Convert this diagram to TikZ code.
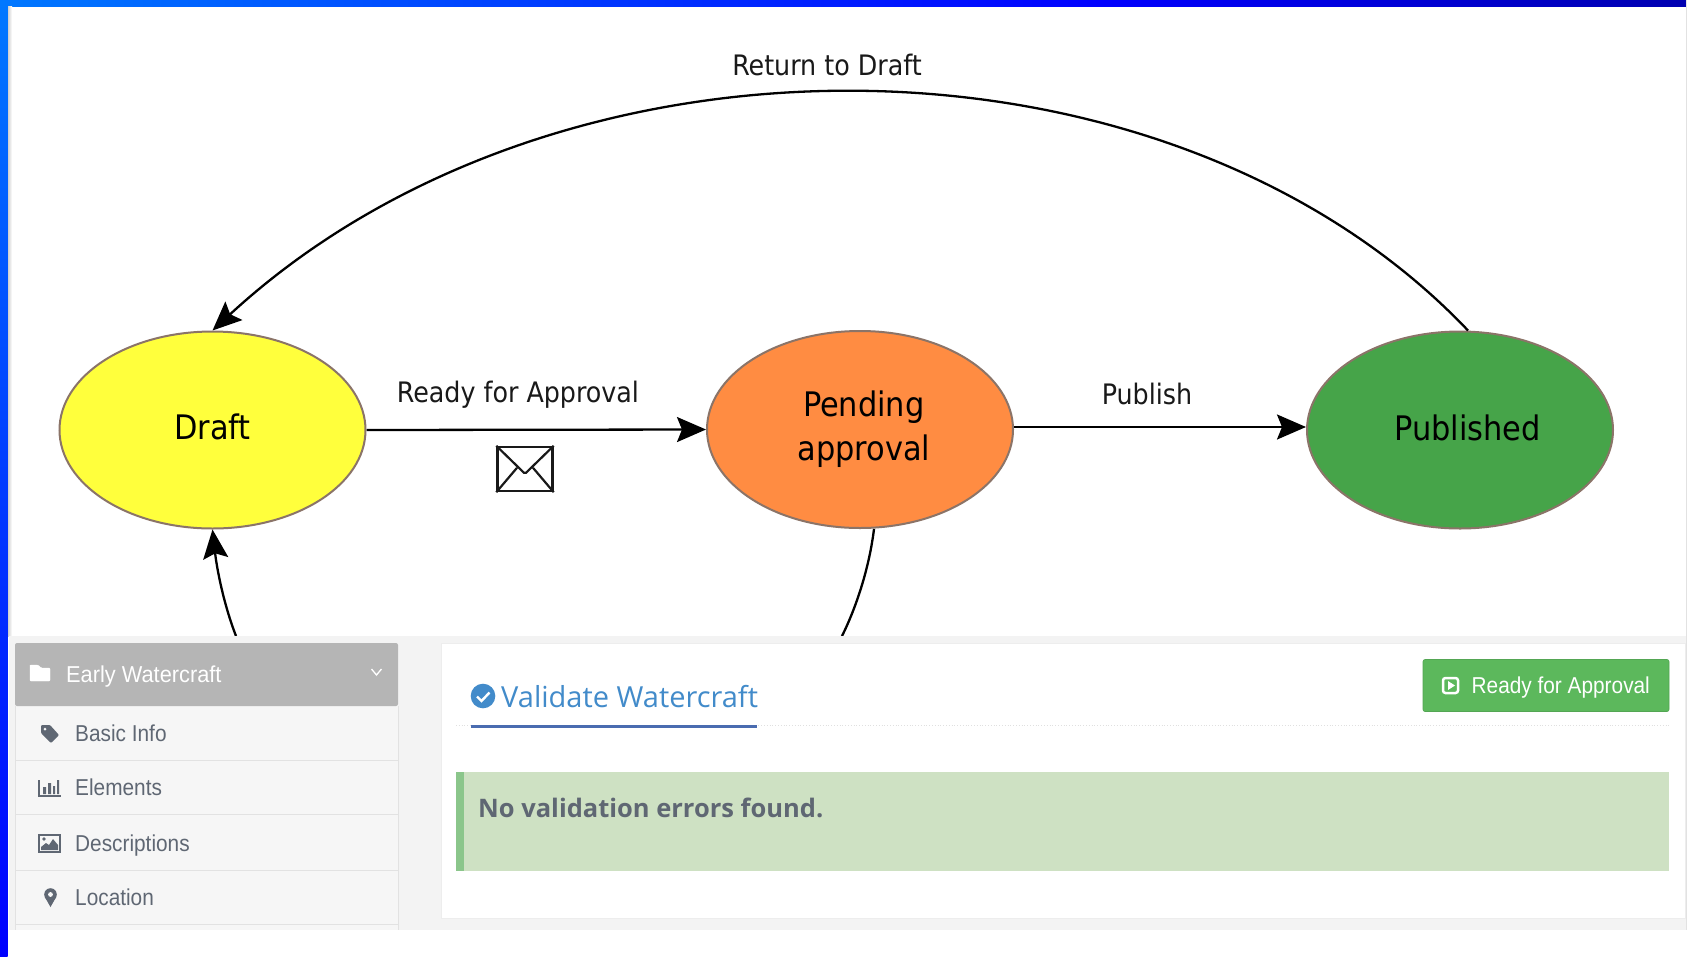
\documentclass[tikz,border=0pt]{standalone}
\usepackage{fontspec}
\setmainfont{Liberation Sans}
\newfontfamily\uifont[FakeStretch=0.905]{Liberation Sans}
\newfontfamily\headfont[FakeStretch=0.947]{Liberation Sans}
\newfontfamily\diagfont{DejaVu Sans Condensed}
\newfontfamily\openfont{Open Sans}
\usetikzlibrary{shapes.geometric,arrows.meta}
\definecolor{panelgray}{HTML}{F3F3F3}
\definecolor{side}{HTML}{F6F6F6}
\definecolor{sideline}{HTML}{E2E2E2}
\definecolor{headgray}{HTML}{B5B5B5}
\definecolor{textgray}{HTML}{5F6773}
\definecolor{linkblue}{HTML}{428BCA}
\definecolor{ulblue}{HTML}{4A6CB0}
\definecolor{okfill}{HTML}{CEE1C3}
\definecolor{okbar}{HTML}{8BC68B}
\definecolor{btn}{HTML}{5CB85C}
\definecolor{stateedge}{HTML}{8B7468}
\definecolor{sy}{HTML}{FFFF3C}
\definecolor{so}{HTML}{FF8C42}
\definecolor{sg}{HTML}{46A449}
\definecolor{framea}{HTML}{0078FF}
\definecolor{frameb}{HTML}{0000FF}
\definecolor{framec}{HTML}{0000B0}
\tikzset{
 x=1pt,y=-1pt,
 state/.style={ellipse,draw=stateedge,line width=2pt,minimum width=306pt,minimum height=197pt,inner sep=0pt,font=\diagfont\fontsize{33.8}{43}\selectfont,align=center,text=black},
 flow/.style={draw=black,line width=2.3pt,-{Stealth[length=29pt,width=25pt,inset=5pt]}},
 plainflow/.style={draw=black,line width=2.3pt},
 edgelabel/.style={font=\diagfont\fontsize{28.2}{36}\selectfont,text=black!90,inner sep=0pt},
 sideitem/.style={font=\uifont\fontsize{23}{28}\selectfont,text=textgray,anchor=base west,inner sep=0pt},
 sideline/.style={draw=sideline,line width=1pt},
}
\begin{document}
\begin{tikzpicture}
\useasboundingbox (0,0) rectangle (1687,956);
% frame
\fill[white] (0,0) rectangle (1687,956);
\shade[top color=framea,bottom color=frameb] (0,0) rectangle (7.5,956);
\shade[left color=framea,right color=frameb] (0,0) rectangle (1100,6);
\shade[left color=frameb,right color=framec] (1100,0) rectangle (1687,6);
\shade[left color=black!18,right color=white] (8,6) rectangle (12,636);
% states
\node[state,fill=sy,text height=30pt,text depth=11pt] (draft) at (212.5,430) {Draft};
\node[state,fill=so] (pending) at (860,429.5) {\hspace*{7.5pt}Pending\\[1pt]\hspace*{7.5pt}approval};
\node[state,fill=sg,text height=30pt,text depth=8.5pt] (published) at (1460,430) {\hspace*{15pt}Published};
% connectors
\coordinate (retA) at (236,636);
\coordinate (penA) at (842,636);
\draw[flow] (draft.east) -- (pending.west);
\draw[flow] (pending.east |- 0,427) -- (published.west |- 0,427);
\draw[flow] ([xshift=8pt]published.north) .. controls (1170,17) and (560,10) .. (draft.north);
\draw[flow] (retA) .. controls (224,605) and (217,570) .. (draft.south);
\draw[plainflow] (pending.south) ++(14,0) .. controls (869,570) and (855,610) .. (penA);
% edge labels
\node[edgelabel] (l1) at (827,65) {Return to Draft};
\node[edgelabel] (l2) at (518,395) {Ready for Approval};
\node[edgelabel] (l3) at (1147,394) {Publish};
% envelope
\node[draw=black!90,line width=2.4pt,minimum width=55pt,minimum height=44pt,inner sep=0pt] (env) at (525,469) {};
\draw[black!90,line width=2.2pt] (env.north west) -- ([xshift=-1pt,yshift=-27pt]env.north) -- ([xshift=1pt,yshift=-27pt]env.north) -- (env.north east);
\draw[black!90,line width=2.2pt] (env.south west) -- ([xshift=-8pt,yshift=-22pt]env.north);
\draw[black!90,line width=2.2pt] (env.south east) -- ([xshift=8pt,yshift=-22pt]env.north);
% bottom panel
\fill[panelgray] (9,636) rectangle (1687,930);
\draw[sideline] (1686,0) -- (1686,930);
% sidebar
\fill[side] (15,643) rectangle (398,930);
\draw[sideline] (15,706) -- (15,930) (398,706) -- (398,930);
\foreach \yy in {760,814,870,924} \draw[sideline] (15,\yy) -- (398,\yy);
\fill[headgray,rounded corners=2pt] (15,643) rectangle (398,706);
\draw[white,fill=white,rounded corners=1pt] (30,666) -- (30,681) -- (50,681) -- (50,668) -- (41,668) -- (38,665) -- (30,665) -- cycle;
\node[font=\headfont\fontsize{23}{28}\selectfont,text=white,anchor=base west,inner sep=0pt] (head) at (66,682) {Early Watercraft};
\draw[white,line width=1.3pt] (371.5,669) -- (376.5,675) -- (381.5,669);
% tag
\fill[textgray,rounded corners=1pt] (41,725) -- (50,725) -- (59,735) -- (51,743) -- (41,733) -- cycle;
\fill[side] (45,729) circle (1.5);
\node[sideitem] (basic) at (75,741) {Basic Info};
% chart
\draw[textgray,line width=1.1pt] (39,780) -- (39,796) -- (61,796);
\fill[textgray] (43,787) rectangle (46,794) (48,783) rectangle (51,794) (53,786) rectangle (55,794) (57,780) rectangle (59,794);
\node[sideitem] (elem) at (75,795) {Elements};
% image icon
\draw[textgray,line width=1.4pt] (39,835) rectangle (60,852);
\fill[textgray] (41,850) -- (41,847) -- (46,843) -- (49,845) -- (53,839) -- (58,845) -- (58,850) -- cycle;
\fill[textgray] (44,839) circle (1.8);
\node[sideitem] (desc) at (75,851) {Descriptions};
% pin
\fill[textgray] (50.5,894.5) circle (6.3);
\fill[textgray] (44.8,897) -- (50.5,907) -- (56.2,897) -- cycle;
\fill[side] (50.5,894.5) circle (2.4);
\node[sideitem] (loc) at (75,905.5) {Location};
% card
\draw[fill=white,draw=black!7,line width=1pt] (441,643) rectangle (1685,918);
\draw[black!12,line width=.8pt,dotted] (456,725) -- (1669,725);
\fill[ulblue] (471,724.5) rectangle (757,727.5);
\fill[linkblue] (483,696) circle (12.3);
\draw[white,line width=2.4pt] (477,696.5) -- (481.5,701) -- (489.5,692.5);
\node[font=\openfont\fontsize{29}{36}\selectfont,text=linkblue,anchor=west,inner sep=0pt] (title) at (501,697) {Validate Watercraft};
% ok box
\fill[okfill] (456,772) rectangle (1669,871);
\fill[okbar] (456,772) rectangle (464,871);
\node[font=\openfont\bfseries\fontsize{25.5}{30}\selectfont,text=textgray,anchor=west,inner sep=0pt] (ok) at (478,808) {No validation errors found.};
% button
\node[fill=btn,draw=btn!90!black,line width=.6pt,rounded corners=2pt,minimum width=246pt,minimum height=52pt,inner sep=0pt] (button) at (1546,685.5) {};
\draw[white,line width=2.5pt,rounded corners=2.5pt] (1443,678) rectangle (1458,693);
\fill[white] (1448,681) -- (1455,685.5) -- (1448,690) -- cycle;
\node[font=\uifont\fontsize{23}{28}\selectfont,text=white,anchor=base west,inner sep=0pt] (btext) at (1471.5,693) {Ready for Approval};
\end{tikzpicture}
\end{document}
